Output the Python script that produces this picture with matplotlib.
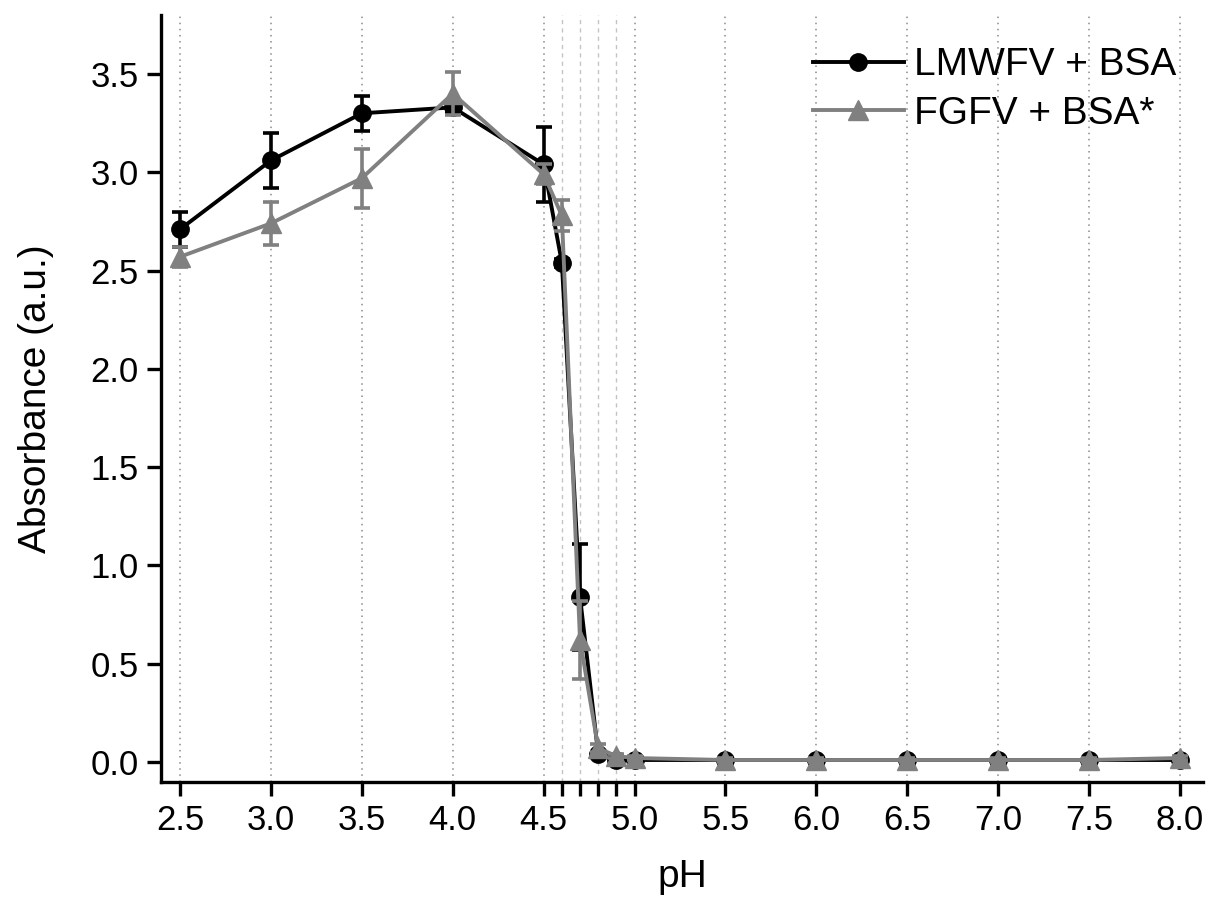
import matplotlib
matplotlib.use("Agg")
import matplotlib.pyplot as plt
from matplotlib.ticker import FixedLocator

plt.rcParams['font.family'] = ['Liberation Sans', 'DejaVu Sans']

ph = [2.5, 3.0, 3.5, 4.0, 4.5, 4.6, 4.7, 4.8, 4.9, 5.0, 5.5, 6.0, 6.5, 7.0, 7.5, 8.0]

lmwfv = [2.71, 3.06, 3.30, 3.33, 3.04, 2.54, 0.84, 0.04, 0.01, 0.01, 0.01, 0.01, 0.01, 0.01, 0.01, 0.01]
lmwfv_err = [0.09, 0.14, 0.09, 0.03, 0.19, 0.02, 0.27, 0.01, 0.01, 0.01, 0.01, 0.01, 0.01, 0.01, 0.01, 0.01]

fgfv = [2.57, 2.74, 2.97, 3.40, 2.99, 2.78, 0.62, 0.07, 0.03, 0.02, 0.01, 0.01, 0.01, 0.01, 0.01, 0.02]
fgfv_err = [0.05, 0.11, 0.15, 0.11, 0.05, 0.08, 0.20, 0.02, 0.01, 0.01, 0.01, 0.01, 0.01, 0.01, 0.01, 0.01]

major_x = [2.5, 3.0, 3.5, 4.0, 4.5, 5.0, 5.5, 6.0, 6.5, 7.0, 7.5, 8.0]
minor_x = [4.6, 4.7, 4.8, 4.9]
major_y = [0.0, 0.5, 1.0, 1.5, 2.0, 2.5, 3.0, 3.5]

BLACK = '#000000'
GREY = '#808080'

fig = plt.figure(figsize=(12.07, 9.0), dpi=100)
ax = fig.add_axes([161 / 1207, 118 / 900, (1203 - 161) / 1207, (782 - 15) / 900])

ax.set_xlim(2.395, 8.127)
ax.set_ylim(-0.102, 3.80)

# vertical guide lines
for x in major_x:
    ax.axvline(x, color='#8a8a8a', linestyle=(0, (1, 3)), linewidth=1.1, zorder=0)
for x in minor_x:
    ax.axvline(x, color='#c4c4c4', linestyle=(0, (3, 3)), linewidth=1.0, zorder=0)

# error bars, then lines with markers on top
ax.errorbar(ph, lmwfv, yerr=lmwfv_err, fmt='none', ecolor=BLACK,
            elinewidth=2.6, capsize=6, capthick=2.6, zorder=2)
ax.plot(ph, lmwfv, color=BLACK, marker='o', markersize=12.5, linewidth=2.8,
        label='LMWFV + BSA', zorder=3)
ax.errorbar(ph, fgfv, yerr=fgfv_err, fmt='none', ecolor=GREY,
            elinewidth=2.6, capsize=6, capthick=2.6, zorder=4)
ax.plot(ph, fgfv, color=GREY, marker='^', markersize=14, linewidth=2.8,
        label='FGFV + BSA*', zorder=5)

ax.spines['top'].set_visible(False)
ax.spines['right'].set_visible(False)
ax.spines['left'].set_linewidth(2.4)
ax.spines['bottom'].set_linewidth(2.4)

ax.xaxis.set_major_locator(FixedLocator(major_x))
ax.xaxis.set_minor_locator(FixedLocator(minor_x))
ax.yaxis.set_major_locator(FixedLocator(major_y))
ax.set_xticklabels([f"{v:.1f}" for v in major_x])
ax.set_yticklabels([f"{v:.1f}" for v in major_y])
ax.tick_params(axis='both', which='major', direction='out', length=10, width=2.4,
               labelsize=25, pad=6)
ax.tick_params(axis='x', which='minor', direction='out', length=10, width=2.4)

ax.set_xlabel('pH', fontsize=28, labelpad=16)
ax.set_ylabel('Absorbance (a.u.)', fontsize=28, labelpad=26)

ax.legend(loc='upper right', frameon=False, fontsize=28, handlelength=2.35,
          handletextpad=0.25, labelspacing=0.32, borderpad=0, borderaxespad=0,
          bbox_to_anchor=(0.974, 0.958))

fig.savefig('out.png', dpi=100, facecolor='white')
